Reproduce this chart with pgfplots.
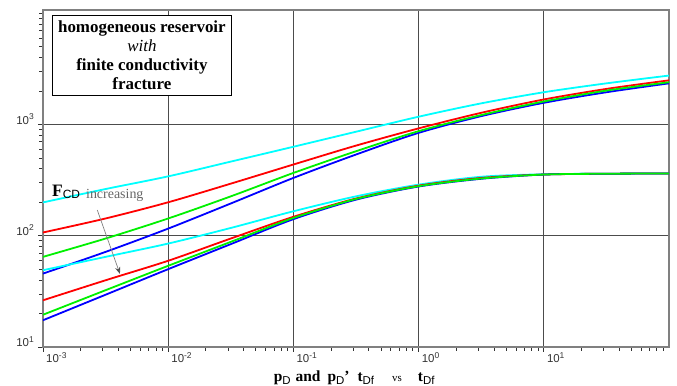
\documentclass[border=0pt]{standalone}
\usepackage{fontspec}
\setmainfont{Liberation Serif}
\setsansfont{Liberation Sans}
\usepackage{pgfplots}
\usepackage{pgfplotstable}
\pgfplotsset{compat=1.18}
\usetikzlibrary{arrows.meta}

\definecolor{ccyan}{RGB}{0,255,255}
\definecolor{cred}{RGB}{255,0,0}
\definecolor{cgreen}{RGB}{0,240,0}
\definecolor{cblue}{RGB}{0,0,255}

\newcommand{\tl}[1]{10\raisebox{0.42em}{\fontsize{8.5}{8.5}\selectfont #1}}
\newcommand{\sub}[1]{\raisebox{-3bp}{\mdseries\sffamily\fontsize{11.5}{11.5}\selectfont #1}}

% pressure (upper) curves
\pgfplotstableread{
x        cyan  red   green blue
0.001    199.5 107   64.6  45.7
0.00316  263   143   94.4  71.6
0.01     342   200   143   116
0.0316   464   294   226   195
0.1      631   437   367   331
0.316    861   646   575   537
1        1175  923   871   841
3.16     1549  1274  1216  1189
10       1950  1679  1611  1567
31.6     2344  2089  2018  1950
100      2754  2495  2399  2344
}\pressure

% derivative (lower) curves
\pgfplotstableread{
x        cyan  red   green blue
0.001    49    26.3  19.5  17.4
0.00316  64.6  39.8  32.4  29.5
0.01     85.1  59.6  53.7  50.1
0.0316   117.5 94.4  88.1  84.1
0.1      166   148   144.5 141
0.316    226   216   214   211
1        288   282   279   277
3.16     339   331   327   325
10       357   355   355   355
31.6     361   361   361   361
100      363   363   363   363
}\deriv

\begin{document}
\begin{tikzpicture}
\begin{axis}[
  name=ax, at={(0,0)}, anchor=south west,
  scale only axis, width=626bp, height=337bp,
  xmode=log, ymode=log,
  xmin=1e-3, xmax=1e2, ymin=10, ymax=1.07e4,
  xtick={1e-3,1e-2,1e-1,1,10},
  xticklabels={\tl{-3},\tl{-2},\tl{-1},\tl{0},\tl{1}},
  ytick={10,100,1000},
  yticklabels={\tl{1},\tl{2},\tl{3}},
  minor xtick={0.002,0.003,0.004,0.005,0.006,0.007,0.008,0.009,
               0.02,0.03,0.04,0.05,0.06,0.07,0.08,0.09,
               0.2,0.3,0.4,0.5,0.6,0.7,0.8,0.9,
               2,3,4,5,6,7,8,9,20,30,40,50,60,70,80,90},
  minor ytick={20,30,40,50,60,70,80,90,200,300,400,500,600,700,800,900,
               2000,3000,4000,5000,6000,7000,8000,9000,10000},
  xtick pos=lower, ytick pos=left,
  tick align=outside,
  major tick length=5bp, minor tick length=4bp,
  every tick/.style={black!80, line width=0.8bp},
  grid=major,
  major grid style={black!70, line width=1.1bp},
  axis line style={black!50, line width=1.3bp},
  xticklabel style={font=\sffamily\fontsize{11.5}{12}\selectfont, text=black!80, anchor=north west, inner sep=0pt, xshift=3bp, yshift=0bp},
  yticklabel style={font=\sffamily\fontsize{11.5}{12}\selectfont, text=black!80, anchor=base east, inner sep=0pt, xshift=-4bp, yshift=0bp},
  xlabel={\bfseries p\sub{D}\hspace{5bp}and\hspace{7bp}p\sub{D}'\hspace{8bp}t\sub{Df}\hspace{18bp}{\mdseries\fontsize{11}{11}\selectfont vs}\hspace{16bp}t\sub{Df}},
  xlabel style={at={(rel axis cs:0.497,0)}, anchor=base, yshift=-34bp, font=\fontsize{15.5}{17}\selectfont, inner sep=0pt},
  clip=true,
]
\addplot[ccyan, line width=1.8bp, smooth] table[x=x, y=cyan] {\pressure};
\addplot[cred, line width=1.8bp, smooth] table[x=x, y=red] {\pressure};
\addplot[cblue, line width=1.8bp, smooth] table[x=x, y=blue] {\pressure};
\addplot[cgreen, line width=1.8bp, smooth] table[x=x, y=green] {\pressure};
\addplot[ccyan, line width=1.8bp, smooth] table[x=x, y=cyan] {\deriv};
\addplot[cred, line width=1.8bp, smooth] table[x=x, y=red] {\deriv};
\addplot[cblue, line width=1.8bp, smooth] table[x=x, y=blue] {\deriv};
\addplot[cgreen, line width=1.8bp, smooth] table[x=x, y=green] {\deriv};

\node[draw=black, line width=0.8bp, fill=white, anchor=north west, align=center,
      minimum width=179bp, minimum height=80bp, inner sep=1bp,
      font=\fontsize{17}{19}\selectfont]
  at (rel axis cs:0.0144,0.985)
  {\bfseries homogeneous reservoir\\ \mdseries\itshape with\\ \bfseries finite conductivity\\ \bfseries fracture};

\node[anchor=base west, inner sep=0pt] at (rel axis cs:0.0144,0.448)
  {{\fontsize{17.5}{17.5}\selectfont\bfseries F}\raisebox{-2bp}{\sffamily\fontsize{12}{12}\selectfont CD\hspace{6bp}\rmfamily\color{black!60}\fontsize{14}{14}\selectfont increasing}};
\draw[black!50, line width=0.7bp, -{Stealth[length=7bp, width=5bp, black!70]}]
  (rel axis cs:0.0867,0.4065) -- (rel axis cs:0.123,0.2166);
\end{axis}
\pgfresetboundingbox
\path[use as bounding box] ([shift={(-43bp,-39bp)}]ax.south west) rectangle ([shift={(8bp,10bp)}]ax.north east);
\end{tikzpicture}
\end{document}
